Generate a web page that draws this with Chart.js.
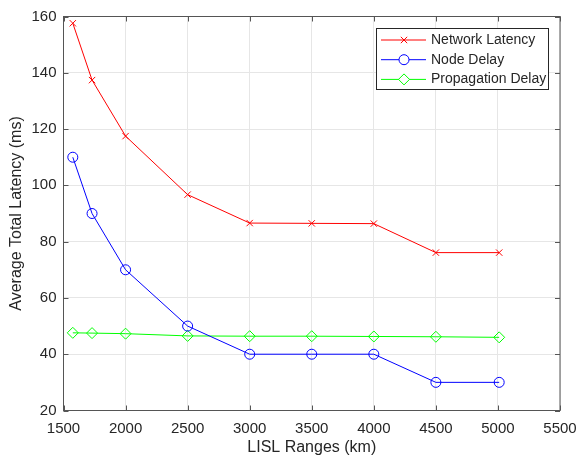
<!DOCTYPE html>
<html>
<head>
<meta charset="utf-8">
<script src="https://cdn.jsdelivr.net/npm/chart.js@4"></script>
<style>
  html, body { margin: 0; padding: 0; background: #fff; }
  #wrap { width: 579px; height: 457px; }
</style>
</head>
<body>
<div id="wrap"><canvas id="latencyChart" width="579" height="457"></canvas></div>
<script>
// values
const ranges = [1575, 1730, 2000, 2500, 3000, 3500, 4000, 4500, 5010];
const networkLatency = [157.6, 137.4, 117.5, 96.7, 86.6, 86.5, 86.4, 76.1, 76.1];
const nodeDelay = [110, 90, 70, 50, 40, 40, 40, 30, 30];
const propagationDelay = [47.6, 47.5, 47.3, 46.5, 46.4, 46.4, 46.3, 46.2, 46.0];
const seriesNames = ['Network Latency', 'Node Delay', 'Propagation Delay'];
const xTicks = [1500, 2000, 2500, 3000, 3500, 4000, 4500, 5000, 5500];
const yTicks = [20, 40, 60, 80, 100, 120, 140, 160];

const FONT = '"Liberation Sans", Arial, sans-serif';
const TEXT = '#262626';
const BOX = '#555555';

const toPoints = (vals) => vals.map((v, i) => ({ x: ranges[i], y: v }));

const makeSeries = (label, vals, color, style, radius) => ({
  label,
  data: toPoints(vals),
  borderColor: color,
  backgroundColor: 'rgba(0,0,0,0)',
  borderWidth: 1,
  pointStyle: style,
  pointRadius: radius,
  pointBorderColor: color,
  pointBorderWidth: 1,
  pointBackgroundColor: 'rgba(0,0,0,0)',
  tension: 0
});

// box round the axes, inward ticks, matlab style legend
const boxPlugin = {
  id: 'matlabBox',
  afterDatasetsDraw(chart) {
    const { ctx, chartArea: a, scales: { x, y } } = chart;
    ctx.save();
    ctx.strokeStyle = BOX;
    ctx.lineWidth = 1;
    ctx.strokeRect(a.left, a.top, a.right - a.left, a.bottom - a.top);
    ctx.beginPath();
    xTicks.forEach(t => {
      const px = Math.round(x.getPixelForValue(t)) + 0.5;
      ctx.moveTo(px, a.bottom); ctx.lineTo(px, a.bottom - 5);
      ctx.moveTo(px, a.top); ctx.lineTo(px, a.top + 5);
    });
    yTicks.forEach(t => {
      const py = Math.round(y.getPixelForValue(t)) + 0.5;
      ctx.moveTo(a.left, py); ctx.lineTo(a.left + 5, py);
      ctx.moveTo(a.right, py); ctx.lineTo(a.right - 5, py);
    });
    ctx.stroke();

    // legend
    const lx = 376.5, ly = 28.5, lw = 172, lh = 61;
    ctx.fillStyle = '#fff';
    ctx.fillRect(lx, ly, lw, lh);
    ctx.strokeStyle = '#262626';
    ctx.strokeRect(lx, ly, lw, lh);
    ctx.font = '14px ' + FONT;
    ctx.textBaseline = 'middle';
    chart.data.datasets.forEach((ds, i) => {
      const cy = 40 + i * 19.7;
      ctx.strokeStyle = ds.borderColor;
      ctx.lineWidth = 1;
      ctx.beginPath();
      ctx.moveTo(381, cy); ctx.lineTo(426, cy);
      ctx.stroke();
      ctx.fillStyle = '#fff';
      Chart.helpers.drawPoint(ctx, { pointStyle: ds.pointStyle, radius: ds.pointRadius, borderWidth: 1, rotation: 0 }, 404, cy);
      ctx.fillStyle = TEXT;
      ctx.fillText(ds.label, 431, cy);
    });
    ctx.restore();
  }
};

new Chart(document.getElementById('latencyChart'), {
  type: 'line',
  data: {
    datasets: [
      makeSeries(seriesNames[0], networkLatency, '#ff0000', 'crossRot', 4.5),
      makeSeries(seriesNames[1], nodeDelay, '#0000ff', 'circle', 5),
      makeSeries(seriesNames[2], propagationDelay, '#00ff00', 'rectRot', 5.5)
    ]
  },
  options: {
    responsive: false,
    animation: false,
    layout: { padding: { top: 16.5, right: 19, left: 0, bottom: 0 } },
    plugins: { legend: { display: false }, tooltip: { enabled: false } },
    scales: {
      x: {
        type: 'linear',
        min: 1500,
        max: 5500,
        afterBuildTicks: (s) => { s.ticks = xTicks.map(v => ({ value: v })); },
        afterFit: (s) => { s.height = 46.5; s.paddingLeft = 0; s.paddingRight = 0; },
        grid: { color: '#e6e6e6', drawTicks: false },
        border: { display: false },
        ticks: { color: TEXT, font: { family: FONT, size: 15 }, padding: 9, maxRotation: 0, callback: (v) => String(v) },
        title: { display: true, text: 'LISL Ranges (km)', color: TEXT, font: { family: FONT, size: 16 }, padding: { top: 0, bottom: 0 } }
      },
      y: {
        min: 20,
        max: 160,
        afterBuildTicks: (s) => { s.ticks = yTicks.map(v => ({ value: v })); },
        afterFit: (s) => { s.width = 63.5; s.paddingTop = 0; s.paddingBottom = 0; },
        grid: { color: '#e6e6e6', drawTicks: false },
        border: { display: false },
        ticks: { color: TEXT, font: { family: FONT, size: 15 }, padding: 7, callback: (v) => String(v) },
        title: { display: true, text: 'Average Total Latency (ms)', color: TEXT, font: { family: FONT, size: 16 }, padding: { top: 7, bottom: 0 } }
      }
    }
  },
  plugins: [boxPlugin]
});
</script>
</body>
</html>
